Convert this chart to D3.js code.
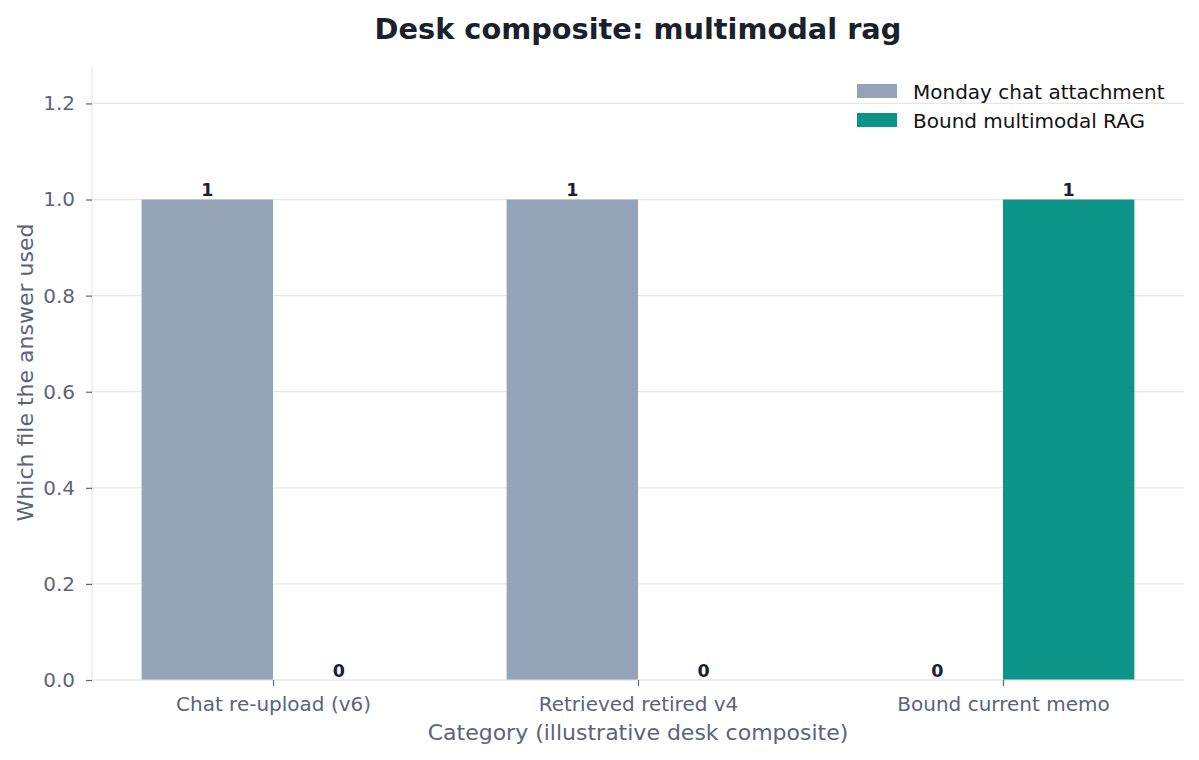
<!DOCTYPE html>
<html>
<head>
<meta charset="utf-8">
<script src="https://cdn.jsdelivr.net/npm/d3@7/dist/d3.min.js"></script>
<style>
  body { margin: 0; background: #fff; }
  svg { display: block; font-family: "DejaVu Sans", sans-serif; }
</style>
</head>
<body>
<svg id="chart"></svg>
<script>
// data
const categories = ["Chat re-upload (v6)", "Retrieved retired v4", "Bound current memo"];
const seriesNames = ["Monday chat attachment", "Bound multimodal RAG"];
const chatValues = [1, 1, 0];
const ragValues = [0, 0, 1];
const yTicks = [0.0, 0.2, 0.4, 0.6, 0.8, 1.0, 1.2];
const colors = ["#94a3b8", "#0d9488"];

const width = 1199, height = 760;
const margin = { top: 65, right: 15, bottom: 80, left: 92 };
const svg = d3.select("#chart").attr("width", width).attr("height", height);

const barW = 0.36;
// index-based x, with matplotlib-ish 5% margins
const x = d3.scaleLinear()
  .domain([-barW - 0.136, categories.length - 1 + barW + 0.136])
  .range([margin.left, width - margin.right]);
const y = d3.scaleLinear().domain([0, 1.28]).range([height - margin.bottom, margin.top]);

// grid
svg.append("g").selectAll("line")
  .data(yTicks)
  .enter().append("line")
  .attr("x1", margin.left).attr("x2", width - margin.right)
  .attr("y1", d => y(d)).attr("y2", d => y(d))
  .style("stroke", "#e5e7eb").style("stroke-width", 1.2);

// bars
const series = [chatValues, ragValues];
series.forEach((vals, s) => {
  svg.append("g").selectAll("rect")
    .data(vals)
    .enter().append("rect")
    .attr("x", (d, i) => x(i + (s === 0 ? -barW : 0)))
    .attr("width", x(barW) - x(0))
    .attr("y", d => y(d))
    .attr("height", d => y(0) - y(d))
    .style("fill", colors[s]);

  svg.append("g").selectAll("text")
    .data(vals)
    .enter().append("text")
    .attr("x", (d, i) => x(i + (s === 0 ? -barW / 2 : barW / 2)))
    .attr("y", d => y(d) - 3.5)
    .attr("text-anchor", "middle")
    .style("font-size", "17.5px")
    .style("font-weight", "bold")
    .style("fill", "#1a202c")
    .text(d => d);
});

// spines
svg.append("line")
  .attr("x1", margin.left).attr("x2", margin.left)
  .attr("y1", margin.top).attr("y2", y(0))
  .style("stroke", "#e5e7eb").style("stroke-width", 1.2);
svg.append("line")
  .attr("x1", margin.left).attr("x2", width - margin.right)
  .attr("y1", y(0)).attr("y2", y(0))
  .style("stroke", "#e5e7eb").style("stroke-width", 1.2);

// y axis
const yAxis = svg.append("g")
  .attr("transform", `translate(${margin.left},0)`)
  .call(d3.axisLeft(y).tickValues(yTicks).tickFormat(d3.format(".1f")).tickSize(6).tickPadding(11));
yAxis.select(".domain").remove();
yAxis.selectAll("line").style("stroke", "#5b6477").style("stroke-width", 1.2);
yAxis.selectAll("text").style("font-size", "20px").style("fill", "#5b6477").style("font-family", "DejaVu Sans");

// x axis
const xAxis = svg.append("g")
  .attr("transform", `translate(0,${y(0)})`)
  .call(d3.axisBottom(x).tickValues(d3.range(categories.length)).tickFormat(i => categories[i]).tickSize(6).tickPadding(11));
xAxis.select(".domain").remove();
xAxis.selectAll("line").style("stroke", "#5b6477").style("stroke-width", 1.2);
xAxis.selectAll("text").style("font-size", "20px").style("fill", "#5b6477").style("font-family", "DejaVu Sans");

// titles
svg.append("text")
  .attr("x", 638).attr("y", 39)
  .attr("text-anchor", "middle")
  .style("font-size", "28.8px").style("font-weight", "bold").style("fill", "#1a202c")
  .text("Desk composite: multimodal rag");

svg.append("text")
  .attr("x", 638).attr("y", 740)
  .attr("text-anchor", "middle")
  .style("font-size", "22px").style("fill", "#5b6477")
  .text("Category (illustrative desk composite)");

svg.append("text")
  .attr("transform", `translate(33,${(margin.top + y(0)) / 2}) rotate(-90)`)
  .attr("text-anchor", "middle")
  .style("font-size", "22px").style("fill", "#5b6477")
  .text("Which file the answer used");

// legend
const legend = svg.append("g").attr("transform", "translate(857,84)");
seriesNames.forEach((name, i) => {
  legend.append("rect")
    .attr("x", 0).attr("y", i * 29)
    .attr("width", 40).attr("height", 14)
    .style("fill", colors[i]);
  legend.append("text")
    .attr("x", 56).attr("y", i * 29 + 14.5)
    .style("font-size", "20px").style("fill", "#111")
    .text(name);
});
</script>
</body>
</html>
